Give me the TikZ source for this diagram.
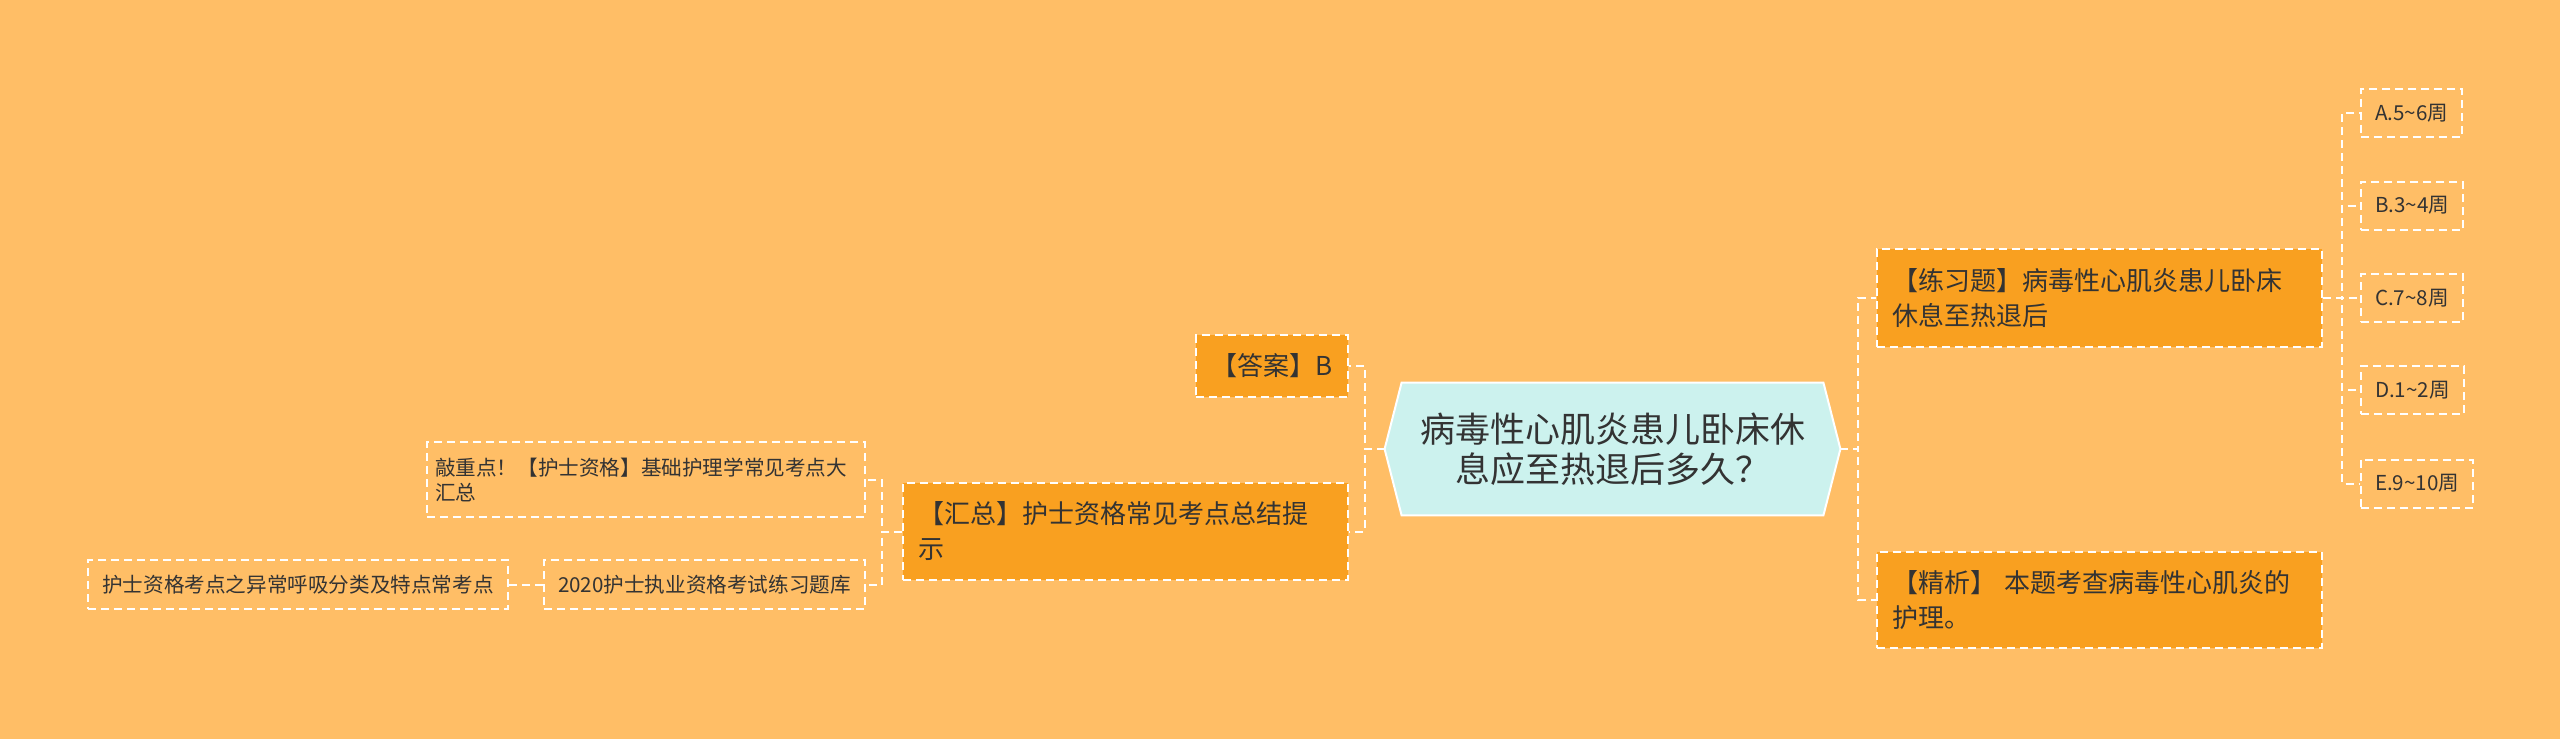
\documentclass[tikz,border=0pt]{standalone}
\usepackage{fontspec}
\setmainfont{Noto Sans CJK SC}
\usetikzlibrary{backgrounds}
\definecolor{canvas}{HTML}{FFBE66}
\definecolor{topicfill}{HTML}{CCF2EE}
\definecolor{entityfill}{HTML}{F9A020}
\definecolor{ink}{HTML}{333333}

\begin{document}
\begin{tikzpicture}[x=0.5pt, y=-0.5pt, text=ink,
 topic/.style = {rectangle, minimum width=227.5pt, minimum height=66pt,
                   align=center, font=\fontsize{17.5}{20}\selectfont},
 entity/.style = {rectangle, draw=white, fill=entityfill, line width=1pt,
                   dash pattern=on 4pt off 2.5pt, inner xsep=7.5pt,
                   align=left, font=\fontsize{13}{17.5}\selectfont},
 leaf/.style = {rectangle, draw=white, line width=1pt,
                   dash pattern=on 4pt off 2.5pt, inner xsep=4pt,
                   align=left, font=\fontsize{10.3}{12.5}\selectfont},
 option/.style = {leaf, anchor=west, inner xsep=7pt, minimum height=24pt},
   link/.style = {draw=white, line width=1pt, dash pattern=on 4pt off 2.5pt}
                    ]
\useasboundingbox (0,0) rectangle (2560,739);
\node (question) [topic] at (1612.5,449) {病毒性心肌炎患儿卧床休\\息应至热退后多久？};
\node (answer) [entity, minimum width=75pt, minimum height=31pt, align=center] at (1272,366) {【答案】B};
\node (summary) [entity, text width=207.5pt, minimum height=48.5pt] at (1125.5,531.5) {【汇总】护士资格常见考点总结提\\示};
\node (keypts) [leaf, text width=211pt, minimum height=37.5pt] at (646,479.5) {敲重点！【护士资格】基础护理学常见考点大\\汇总};
\node (bank) [leaf, minimum width=160.5pt, minimum height=24.5pt, align=center] at (704.5,584.5) {2020护士执业资格考试练习题库};
\node (breath) [leaf, minimum width=210pt, minimum height=24.5pt, align=center] at (298,584.5) {护士资格考点之异常呼吸分类及特点常考点};
\node (exercise) [entity, text width=207.5pt, minimum height=49pt] at (2099.5,298) {【练习题】病毒性心肌炎患儿卧床\\休息至热退后};
\node (analysis) [entity, text width=207.5pt, minimum height=48pt] at (2099.5,600) {【精析】 本题考查病毒性心肌炎的\\护理。};
\node (optA) [option] at (2360,113) {A.5\textasciitilde6周};
\node (optB) [option] at (2360,205.5) {B.3\textasciitilde4周};
\node (optC) [option] at (2360,298) {C.7\textasciitilde8周};
\node (optD) [option] at (2360,390) {D.1\textasciitilde2周};
\node (optE) [option] at (2360,483.5) {E.9\textasciitilde10周};
% connections
\draw [link] (question.west) -- ++(-20,0) |- (answer.east);
\draw [link] (question.west) -- ++(-20,0) |- (summary.east);
\draw [link] (summary.west) -- ++(-20,0) |- (keypts.east);
\draw [link] (summary.west) -- ++(-20,0) |- (bank.east);
\draw [link] (bank.west) -- (breath.east);
\draw [link] (question.east) -- ++(18,0) |- (exercise.west);
\draw [link] (question.east) -- ++(18,0) |- (analysis.west);
\draw [link] (exercise.east) -- ++(19,0) |- (optA.west);
\draw [link] (exercise.east) -- ++(19,0) |- (optB.west);
\draw [link] (exercise.east) -- (optC.west);
\draw [link] (exercise.east) -- ++(19,0) |- (optD.west);
\draw [link] (exercise.east) -- ++(19,0) |- (optE.west);
% page and hexagon behind the nodes
\begin{scope}[on background layer]
\fill [canvas] (0,0) rectangle (2560,739);
\draw [white, line width=1pt, fill=topicfill] (question.west) -- ([xshift=8.5pt]question.north west)
  -- ([xshift=-8.5pt]question.north east) -- (question.east)
  -- ([xshift=-8.5pt]question.south east) -- ([xshift=8.5pt]question.south west) -- cycle;
\end{scope}
\end{tikzpicture}
\end{document}
